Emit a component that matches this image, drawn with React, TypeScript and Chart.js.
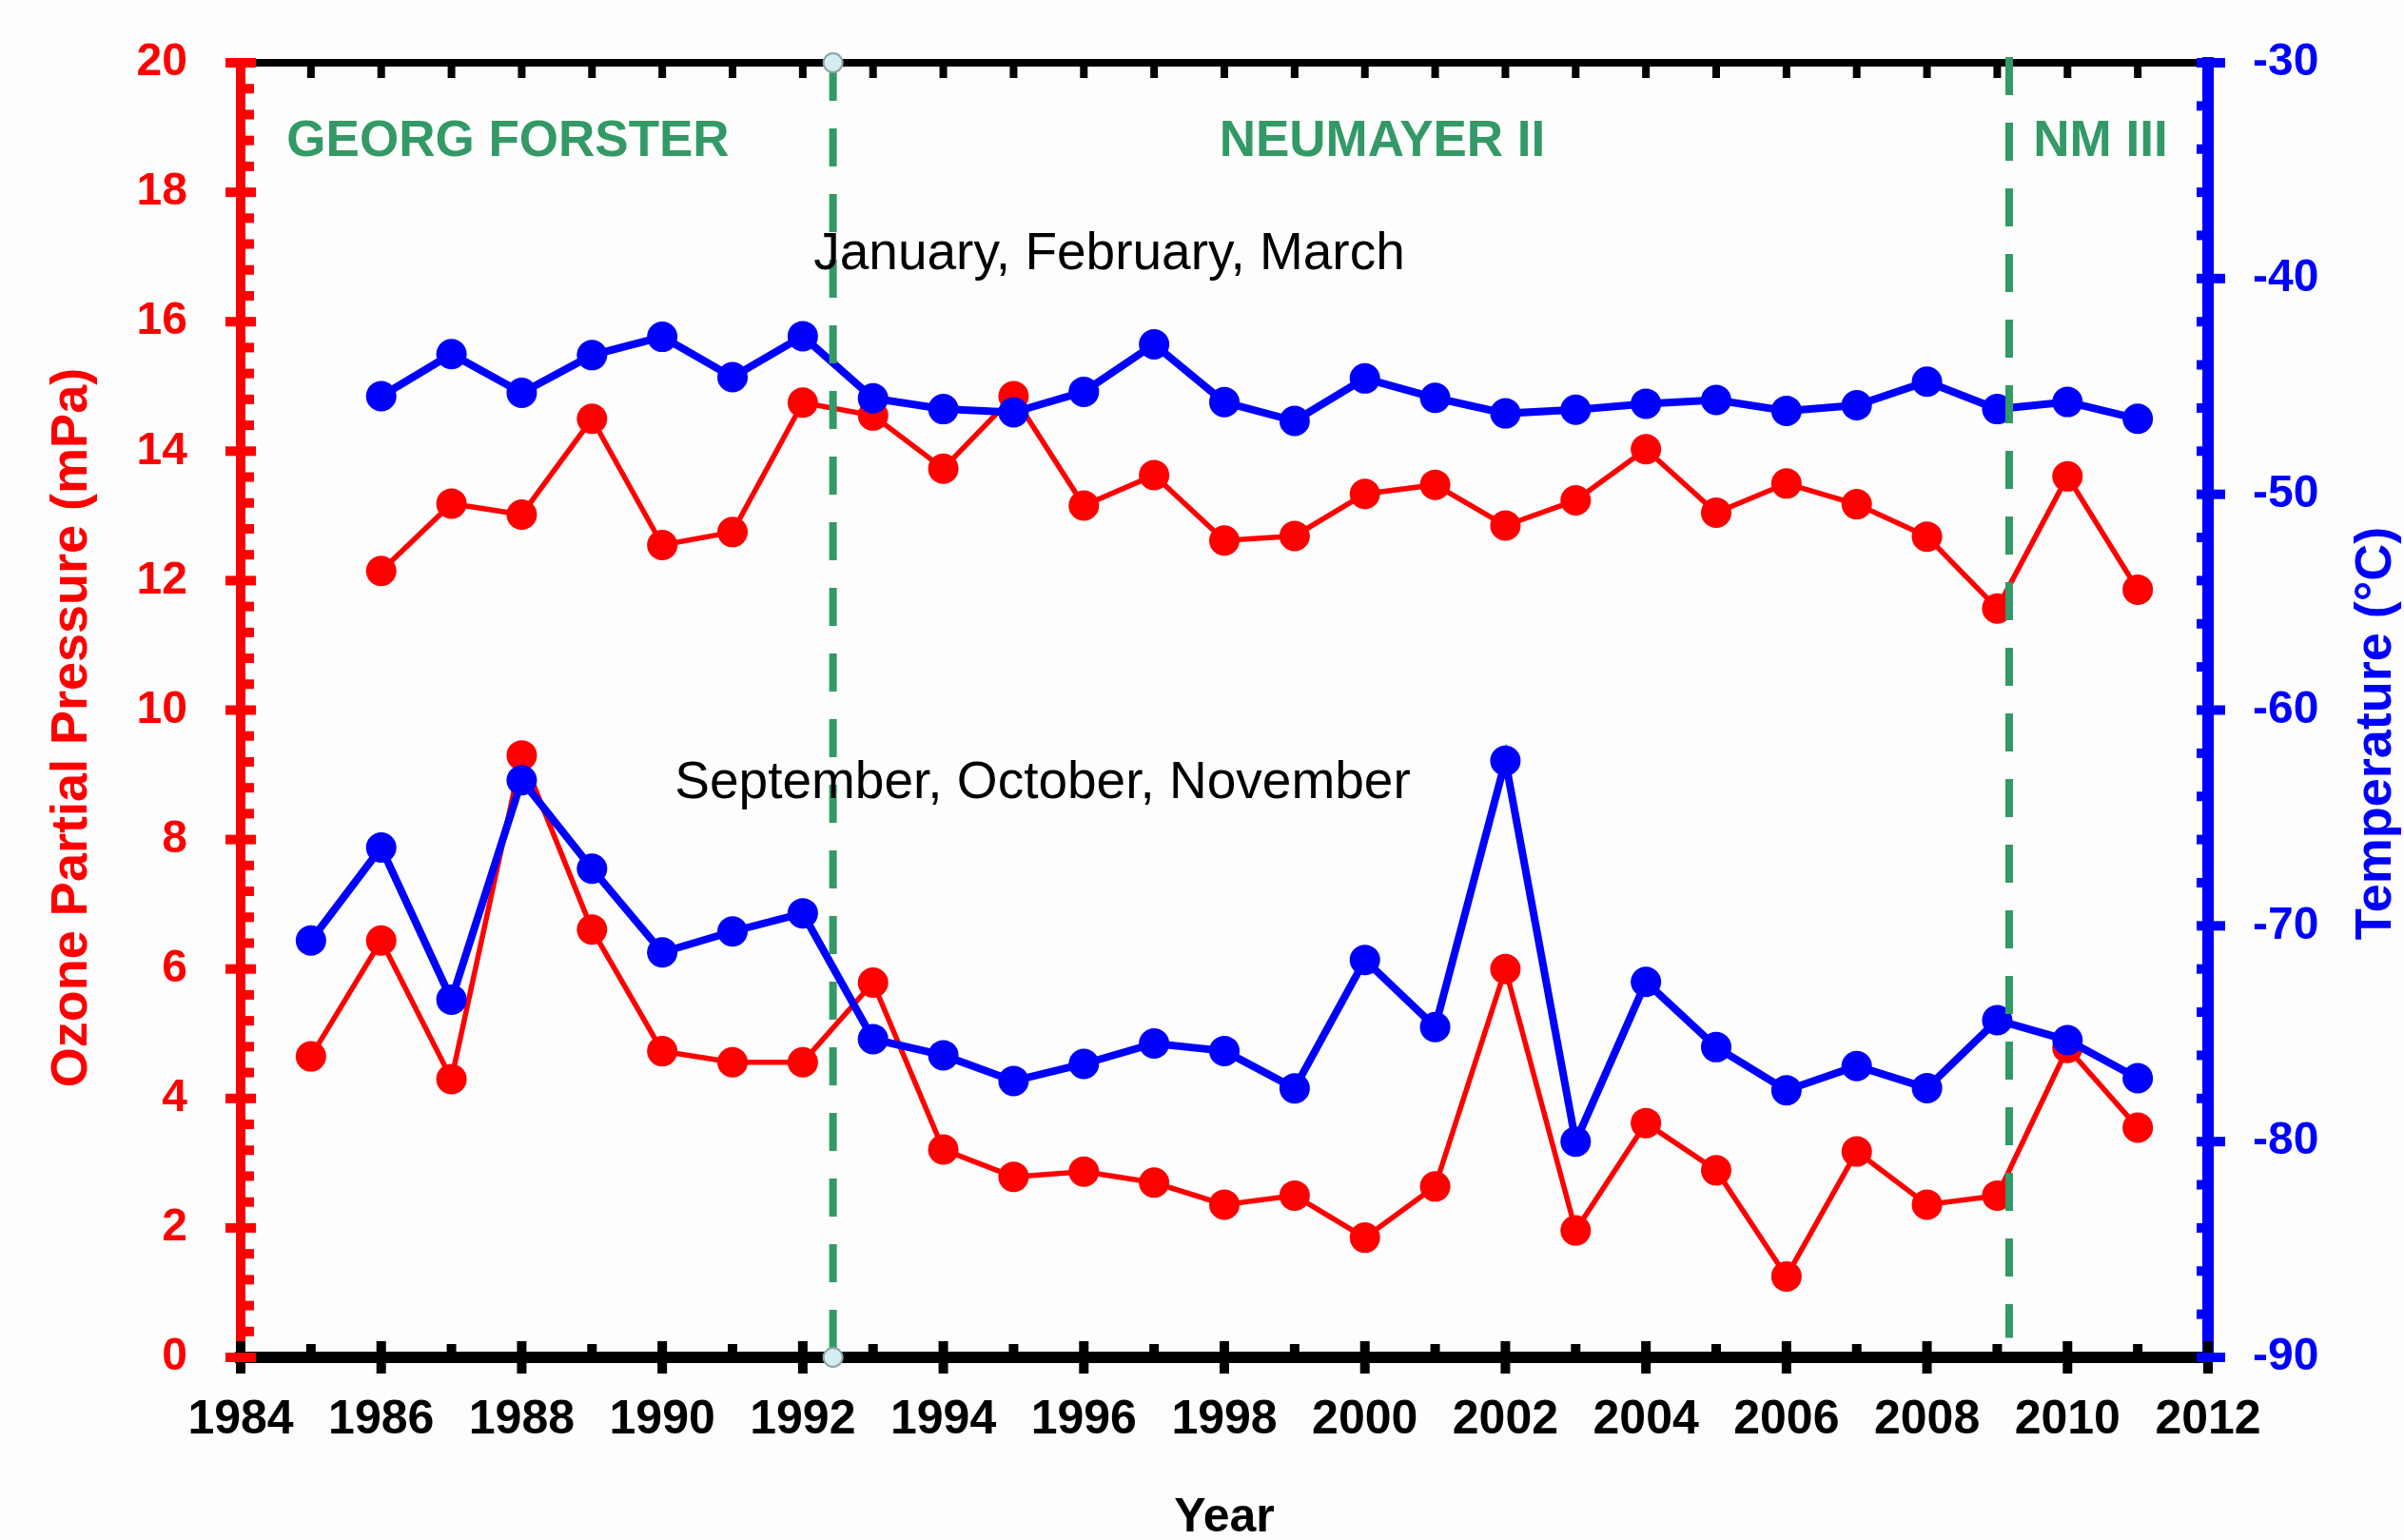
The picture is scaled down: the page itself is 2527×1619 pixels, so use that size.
import React, { useEffect, useRef } from 'react';
import { Chart, registerables } from 'chart.js';

Chart.register(...registerables);

// ---------------- data ----------------
const yearsJFM = [1986, 1987, 1988, 1989, 1990, 1991, 1992, 1993, 1994, 1995, 1996, 1997, 1998, 1999, 2000, 2001, 2002, 2003, 2004, 2005, 2006, 2007, 2008, 2009, 2010, 2011];
const ozoneJFM = [12.15, 13.19, 13.02, 14.5, 12.55, 12.75, 14.75, 14.55, 13.73, 14.85, 13.16, 13.63, 12.62, 12.69, 13.34, 13.48, 12.85, 13.24, 14.03, 13.05, 13.5, 13.18, 12.68, 11.57, 13.61, 11.86];
const tempJFM = [-45.45, -43.5, -45.3, -43.55, -42.7, -44.57, -42.67, -45.55, -46.05, -46.2, -45.25, -43.05, -45.73, -46.6, -44.63, -45.53, -46.25, -46.08, -45.8, -45.63, -46.13, -45.87, -44.78, -46.05, -45.72, -46.5];

const yearsSON = [1985, 1986, 1987, 1988, 1989, 1990, 1991, 1992, 1993, 1994, 1995, 1996, 1997, 1998, 1999, 2000, 2001, 2002, 2003, 2004, 2005, 2006, 2007, 2008, 2009, 2010, 2011];
const ozoneSON = [4.65, 6.44, 4.3, 9.3, 6.61, 4.73, 4.56, 4.56, 5.79, 3.21, 2.79, 2.87, 2.7, 2.36, 2.5, 1.85, 2.64, 6.0, 1.96, 3.62, 2.89, 1.25, 3.18, 2.36, 2.5, 4.78, 3.55];
const tempSON = [-70.68, -66.37, -73.42, -63.25, -67.35, -71.23, -70.26, -69.42, -75.25, -76.0, -77.19, -76.4, -75.45, -75.8, -77.53, -71.58, -74.69, -62.35, -80.0, -72.6, -75.62, -77.62, -76.5, -77.52, -74.37, -75.3, -77.06];

// station change markers (year) and the vertical extent of the dashed lines (ozone units)
const dividerYears = [1992.43, 2009.17];
const dividerTop = [20, 20.09];
const dividerBottom = [0, 0.3];

const xTickYears = [1984, 2012];
const ozoneRange = [0, 20];
const tempRange = [-90, -30];

// ---------------- styling ----------------
const W = 2527;
const H = 1619;
const FONT = '"Liberation Sans", Arial, Helvetica, sans-serif';
const RED = '#FF0000';
const BLUE = '#0000FF';
const GREEN = '#339966';
const AREA = { left: 253, right: 2321, top: 66, bottom: 1427 };

const toXY = (xs: number[], ys: number[]) => xs.map((x, i) => ({ x, y: ys[i] }));

const bgPlugin = {
  id: 'bg',
  beforeDraw(chart: any) {
    const { ctx } = chart;
    ctx.save();
    ctx.fillStyle = '#FCFDFC';
    ctx.fillRect(0, 0, chart.width, chart.height);
    ctx.restore();
  },
};

const textPlugin = {
  id: 'texts',
  afterDatasetsDraw(chart: any) {
    const { ctx } = chart;
    ctx.save();
    ctx.textAlign = 'center';
    ctx.textBaseline = 'alphabetic';
    ctx.fillStyle = GREEN;
    ctx.font = `bold 53px ${FONT}`;
    ctx.fillText('GEORG FORSTER', 534, 164);
    ctx.fillText('NEUMAYER II', 1453, 164);
    ctx.fillText('NM III', 2208, 164);
    ctx.fillStyle = '#000';
    ctx.font = `55px ${FONT}`;
    ctx.fillText('January, February, March', 1166, 283);
    ctx.fillText('September, October, November', 1096, 839);
    ctx.restore();
  },
};

const ticksPlugin = {
  id: 'axisTicks',
  afterDraw(chart: any) {
    const { ctx, chartArea, scales } = chart;
    const { left, right, top, bottom } = chartArea;
    const x = scales.x;
    const y = scales.y;
    const y2 = scales.y2;
    ctx.save();
    // x ticks
    ctx.fillStyle = '#000';
    for (let yr = xTickYears[0]; yr <= xTickYears[1]; yr++) {
      const px = x.getPixelForValue(yr);
      if (yr % 2 === 0) {
        ctx.fillRect(px - 5, bottom - 17, 10, 34);
      } else {
        ctx.fillRect(px - 5, bottom - 14, 10, 14);
      }
      if (yr > xTickYears[0] && yr < xTickYears[1]) {
        ctx.fillRect(px - 4, top, 8, 16);
      }
    }
    // left ozone ticks
    ctx.fillStyle = RED;
    for (let k = 0; k <= 50; k++) {
      const v = ozoneRange[0] + k * 0.4;
      const py = y.getPixelForValue(v);
      if (k % 5 === 0) ctx.fillRect(left - 16, py - 5, 32, 10);
      else ctx.fillRect(left, py - 5, 14, 10);
    }
    // right temperature ticks
    ctx.fillStyle = BLUE;
    for (let k = 0; k <= 30; k++) {
      const v = tempRange[0] + k * 2;
      const py = y2.getPixelForValue(v);
      if (k % 5 === 0) ctx.fillRect(right - 12, py - 5, 30, 10);
      else ctx.fillRect(right - 12, py - 5, 12, 10);
    }
    // axis titles
    ctx.textAlign = 'center';
    ctx.textBaseline = 'middle';
    ctx.font = `bold 54px ${FONT}`;
    ctx.fillStyle = RED;
    ctx.save();
    ctx.translate(76, 765);
    ctx.rotate(-Math.PI / 2);
    ctx.fillText('Ozone Partial Pressure (mPa)', 0, 0);
    ctx.restore();
    ctx.fillStyle = BLUE;
    ctx.save();
    ctx.translate(2498, 771);
    ctx.rotate(-Math.PI / 2);
    ctx.fillText('Temperature (\u00B0C)', 0, 0);
    ctx.restore();
    ctx.restore();
  },
};

export default function App() {
  const ref = useRef<HTMLCanvasElement>(null);

  useEffect(() => {
    const canvas = ref.current;
    if (!canvas) return;
    const dividerSets = dividerYears.map((yr, i) => ({
      label: `divider${i}`,
      data: [{ x: yr, y: dividerTop[i] }, { x: yr, y: dividerBottom[i] }],
      xAxisID: 'x',
      yAxisID: 'y',
      borderColor: GREEN,
      borderWidth: 8,
      borderDash: [40, 29],
      borderCapStyle: 'butt',
      pointRadius: i === 0 ? 10 : 0,
      pointBackgroundColor: '#D6ECF3',
      pointBorderColor: '#8FA3AC',
      pointBorderWidth: 2,
      clip: false,
    }));
    const series = (data: any, color: string, width: number, axis: string, label: string) => ({
      label,
      data,
      xAxisID: 'x',
      yAxisID: axis,
      borderColor: color,
      backgroundColor: color,
      borderWidth: width,
      pointRadius: 16,
      pointBackgroundColor: color,
      pointBorderWidth: 0,
      tension: 0,
      fill: false,
    });
    const fixVertical = (width: number) => (s: any) => {
      s.width = width;
      s.paddingTop = 0;
      s.paddingBottom = 0;
    };
    const chart = new Chart(canvas, {
      type: 'line',
      data: {
        datasets: [
          ...dividerSets,
          series(toXY(yearsJFM, tempJFM), BLUE, 8, 'y2', 'Temperature JFM'),
          series(toXY(yearsSON, tempSON), BLUE, 8, 'y2', 'Temperature SON'),
          series(toXY(yearsJFM, ozoneJFM), RED, 5.5, 'y', 'Ozone JFM'),
          series(toXY(yearsSON, ozoneSON), RED, 5.5, 'y', 'Ozone SON'),
        ] as any,
      },
      options: {
        responsive: false,
        maintainAspectRatio: false,
        animation: false,
        devicePixelRatio: 1,
        events: [],
        layout: { padding: 0, autoPadding: false },
        plugins: { legend: { display: false }, tooltip: { enabled: false } },
        scales: {
          x: {
            type: 'linear',
            position: 'bottom',
            min: xTickYears[0],
            max: xTickYears[1],
            afterFit: (s: any) => { s.height = H - AREA.bottom; s.paddingLeft = 0; s.paddingRight = 0; },
            grid: { display: false, drawTicks: false },
            border: { display: true, color: '#000', width: 12 },
            ticks: {
              stepSize: 2,
              autoSkip: false,
              maxRotation: 0,
              color: '#000',
              padding: 36,
              font: { family: FONT, size: 50, weight: 'bold' },
              callback: (v: any) => String(v),
            },
            title: {
              display: true,
              text: 'Year',
              color: '#000',
              font: { family: FONT, size: 50, weight: 'bold', lineHeight: 0.8 },
              padding: { top: 0, bottom: 3 },
            },
          },
          x2: {
            type: 'linear',
            position: 'top',
            min: xTickYears[0],
            max: xTickYears[1],
            afterFit: (s: any) => { s.height = AREA.top; s.paddingLeft = 0; s.paddingRight = 0; },
            grid: { display: false, drawTicks: false },
            border: { display: true, color: '#000', width: 8 },
            ticks: { display: false },
          },
          y: {
            type: 'linear',
            position: 'left',
            min: ozoneRange[0],
            max: ozoneRange[1],
            afterFit: fixVertical(AREA.left),
            grid: { display: false, drawTicks: false },
            border: { display: true, color: RED, width: 10 },
            ticks: {
              stepSize: 2,
              autoSkip: false,
              color: RED,
              padding: 56,
              font: { family: FONT, size: 48, weight: 'bold' },
            },
          },
          y2: {
            type: 'linear',
            position: 'right',
            min: tempRange[0],
            max: tempRange[1],
            afterFit: fixVertical(W - AREA.right),
            grid: { display: false, drawTicks: false },
            border: { display: true, color: BLUE, width: 12 },
            ticks: {
              stepSize: 10,
              autoSkip: false,
              color: BLUE,
              padding: 47,
              font: { family: FONT, size: 48, weight: 'bold' },
            },
          },
        },
      } as any,
      plugins: [bgPlugin, textPlugin, ticksPlugin],
    });
    return () => chart.destroy();
  }, []);

  return (
    <div style={{ position: 'fixed', left: 0, top: 0, width: W, height: H, overflow: 'hidden', background: '#FCFDFC' }}>
      <canvas ref={ref} width={W} height={H} style={{ display: 'block', width: W, height: H }} />
    </div>
  );
}
